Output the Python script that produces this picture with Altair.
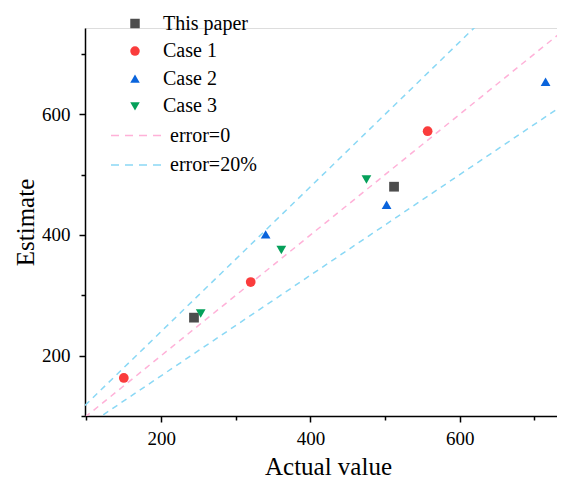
import altair as alt
import pandas as pd

series = ["This paper", "Case 1", "Case 2", "Case 3"]
series_colors = ["#4d4d4d", "#fa3c3c", "#0a64dc", "#05a05a"]
series_shapes = ["square", "circle", "triangle-up", "triangle-down"]

paper_x = [244, 512]
paper_y = [263, 480]
case1_x = [150, 320, 557]
case1_y = [163, 322, 572]
case2_x = [340, 502, 715]
case2_y = [401, 450, 654]
case3_x = [253, 361, 475]
case3_y = [270, 375, 492]

line_names = ["error=0", "error=20%"]
line_colors = ["#ffb1d8", "#8ad8f5"]
line_x = [98, 731]
line_ratio_names = ["error=0", "error=20%", "error=20%"]
line_ratio_ids = ["exact", "upper", "lower"]
line_ratios = [1.0, 1.2, 1 / 1.2]

tick_values = [100, 200, 300, 400, 500, 600, 700]

rows = []
for name, xs, ys in zip(series, [paper_x, case1_x, case2_x, case3_x],
                        [paper_y, case1_y, case2_y, case3_y]):
    for xv, yv in zip(xs, ys):
        rows.append({"series": name, "x": xv, "y": yv})
pts = pd.DataFrame(rows)

lrows = []
for name, lid, r in zip(line_ratio_names, line_ratio_ids, line_ratios):
    for xv in line_x:
        lrows.append({"line": name, "id": lid, "x": xv, "y": xv * r})
lines = pd.DataFrame(lrows)

FONT = "Liberation Serif"
W, H = 472, 388


def make_axis(title, title_x, title_y, label_pad):
    return alt.Axis(
        title=title,
        values=tick_values,
        labelExpr="datum.value % 200 == 0 ? datum.label : ''",
        tickSize={"condition": {"test": "datum.value % 200 == 0", "value": 6}, "value": 4},
        labelPadding=label_pad,
        labelFont=FONT,
        labelFontSize=19,
        titleFont=FONT,
        titleX=title_x,
        titleY=title_y,
        titleBaseline="alphabetic",
    )


xsc = alt.Scale(domain=[98, 730.3], nice=False, zero=False)
ysc = alt.Scale(domain=[100, 743], nice=False, zero=False)

x_axis = make_axis("Actual value", 243, 58, 7)
y_axis = make_axis("Estimate", -52, H / 2, 9)

line_layer = alt.Chart(lines).mark_line(
    clip=True, strokeWidth=1.5, strokeDash=[6, 5]
).encode(
    x=alt.X("x:Q", scale=xsc, axis=x_axis),
    y=alt.Y("y:Q", scale=ysc, axis=y_axis),
    stroke=alt.Stroke(
        "line:N",
        scale=alt.Scale(domain=line_names, range=line_colors),
        legend=alt.Legend(
            title=None,
            orient="none",
            legendX=41,
            legendY=97.5,
            symbolType="M-5,0L5,0",
            symbolSize=100,
            symbolStrokeWidth=1.5,
            symbolDash=[8, 6],
            symbolFillColor="transparent",
            labelOffset=24,
            rowPadding=9.5,
            padding=0,
        ),
    ),
    detail="id:N",
)

pt_legend = alt.Legend(
    title=None,
    orient="none",
    legendX=40,
    legendY=-14.5,
    symbolSize=90,
    labelOffset=18,
    rowPadding=7.6,
    padding=0,
)

pt_layer = alt.Chart(pts).mark_point(filled=True, size=95, opacity=1).encode(
    x=alt.X("x:Q", scale=xsc, axis=x_axis),
    y=alt.Y("y:Q", scale=ysc, axis=y_axis),
    color=alt.Color(
        "series:N",
        scale=alt.Scale(domain=series, range=series_colors),
        legend=pt_legend,
    ),
    shape=alt.Shape(
        "series:N",
        scale=alt.Scale(domain=series, range=series_shapes),
        legend=pt_legend,
    ),
)

chart = alt.layer(line_layer, pt_layer).properties(
    width=W,
    height=H,
    autosize=alt.AutoSizeParams(type="none"),
    padding={"left": 77, "top": 20, "right": 0, "bottom": 63},
).configure_view(stroke=None).configure(background="white").configure_axis(
    tickColor="black",
    tickWidth=1.5,
    domainColor="black",
    domainWidth=1.5,
    grid=False,
    labelFont=FONT,
    labelFontSize=19,
    labelColor="black",
    titleFont=FONT,
    titleFontSize=25,
    titleFontWeight="normal",
    titleColor="black",
).configure_legend(
    labelFont=FONT,
    labelFontSize=20,
    labelColor="black",
)

chart.save("out.html", embed_options={"renderer": "svg", "actions": False})
